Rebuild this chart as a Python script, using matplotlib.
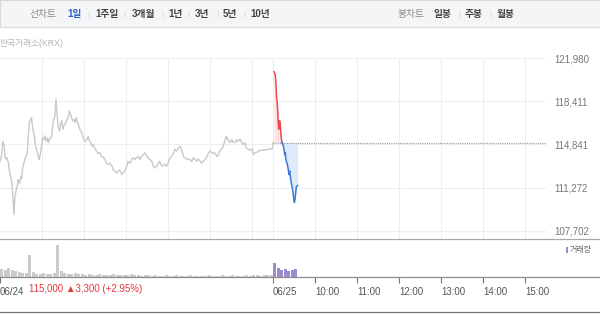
import numpy as np
import matplotlib
matplotlib.use("Agg")
import matplotlib.pyplot as plt
from matplotlib.patches import Rectangle
from matplotlib.lines import Line2D

plt.rcParams['font.family'] = ['Liberation Sans', 'Noto Sans CJK KR', 'DejaVu Sans']

# ---- data -----------------------------------------------------------------
# 06/24 intraday (minutes after 09:00, price)
day1_min = [0, 2, 4, 6, 7, 9, 10, 12, 14, 17,
            18, 20, 21, 23, 25, 26, 28, 30, 31, 32,
            34, 37, 39, 40, 42, 44, 45, 47, 49, 50,
            52, 55, 56, 58, 60, 61, 63, 64, 66, 68,
            69, 71, 74, 76, 78, 79, 80, 81, 82, 83,
            85, 87, 88, 90, 91, 93, 95, 98, 99, 101,
            102, 104, 106, 107, 109, 110, 112, 114, 117, 119,
            121, 124, 126, 128, 130, 131, 133, 136, 138, 140,
            143, 145, 148, 150, 152, 155, 157, 160, 162, 164,
            167, 169, 171, 174, 176, 179, 181, 183, 186, 188,
            190, 193, 195, 198, 200, 202, 205, 207, 210, 212,
            214, 217, 219, 221, 224, 226, 228, 230, 231, 233,
            236, 238, 240, 243, 245, 248, 250, 252, 255, 257,
            260, 262, 264, 267, 269, 271, 274, 276, 279, 281,
            283, 286, 288, 290, 293, 295, 298, 300, 302, 305,
            307, 310, 312, 314, 317, 319, 321, 323, 325, 326,
            328, 330, 331, 333, 336, 338, 340, 343, 345, 348,
            350, 352, 355, 357, 360, 362, 364, 367, 369, 371,
            374, 376, 381, 386, 389, 390]
day1_price = [113450, 113850, 115100, 114700, 113850, 113600, 113750, 113300, 112500, 111650,
              110850, 109050, 110300, 111100, 111500, 111950, 111650, 112200, 112050, 112750,
              113300, 113850, 114150, 115250, 116650, 116900, 117050, 116100, 115550, 115000,
              114450, 113850, 113600, 114150, 115000, 115400, 115250, 115550, 115100, 115400,
              115000, 115250, 115550, 116800, 117050, 117750, 118600, 117750, 117050, 116350,
              115950, 116650, 116800, 116100, 116350, 116500, 116800, 117200, 117600, 117350,
              117050, 116800, 116900, 116650, 117050, 116800, 116500, 116100, 115800, 115400,
              115100, 115250, 115500, 115100, 115000, 114700, 114850, 114450, 114300, 114100,
              114150, 113850, 113750, 113600, 113300, 113200, 113300, 113050, 112750, 112650,
              112500, 112650, 112750, 112350, 112500, 112750, 113050, 113450, 113300, 113600,
              113750, 113600, 113750, 113850, 113600, 113850, 114000, 114150, 113850, 113750,
              113600, 113450, 113050, 112900, 113050, 113300, 113450, 113200, 113050, 113100,
              113200, 113050, 113300, 113750, 113850, 114150, 114450, 114300, 114550, 114700,
              114300, 113850, 113750, 113600, 113650, 113600, 113450, 113750, 113600, 113450,
              113650, 113450, 113300, 113450, 113600, 113750, 114150, 114300, 114200, 114100,
              114150, 113850, 114000, 114300, 114550, 114700, 115100, 115500, 115250, 115300,
              115000, 115100, 115250, 115050, 115000, 115250, 115100, 115300, 115000, 114850,
              115000, 114550, 114450, 114350, 114500, 114000, 114150, 114200, 114300, 114350,
              114350, 114400, 114400, 114500, 114500, 115000]

# 06/25 intraday (minutes after 09:00, price)
day2_min = [1.4, 2.9, 3.8, 4.3, 4.8, 5.2, 5.7, 6.2, 6.7, 7.1,
            7.6, 8.1, 8.6, 9.0, 9.5, 10.0, 10.5, 11.0, 11.4, 12.4,
            13.1, 14.8, 15.7, 16.7, 17.6, 18.1, 19.0, 20.0, 21.0, 21.9,
            22.9, 23.8, 24.8, 25.7, 26.7, 27.6, 28.6, 29.5, 30.5, 31.4,
            32.4, 33.3, 34.3, 35.2]
day2_price = [120850, 120650, 120250, 119700, 119150, 118650, 118450, 118150, 117600, 117050,
              116500, 116100, 116350, 116650, 116800, 116650, 116350, 115950, 115650, 115100,
              115000, 114700, 114450, 114000, 114150, 113750, 113450, 113300, 113050, 112750,
              112350, 112650, 112200, 111800, 111500, 111250, 110850, 110400, 110050, 110300,
              110850, 111350, 111400, 111450]

prev_close = 115000
y_ticks = [107702, 111272, 114841, 118411, 121980]

# volume in 5-minute bins
vol_day1 = [8, 7, 9, 7, 6, 5, 4, 4, 22, 5,
            3, 3, 4, 3, 3, 4, 32, 6, 4, 3,
            3, 4, 3, 3, 2, 3, 2, 2, 3, 2,
            2, 2, 3, 2, 2, 2, 2, 3, 2, 2,
            1, 2, 2, 1, 2, 1, 1, 2, 1, 1,
            2, 1, 1, 1, 2, 1, 1, 1, 1, 2,
            1, 1, 1, 2, 1, 1, 2, 1, 1, 1,
            2, 1, 2, 2, 1, 2, 2, 2]
vol_day2 = [14, 9, 7, 8, 6, 7, 8]

x_tick_pos = [0, 390, 450, 510, 570, 630, 690, 750]
x_tick_lab = ['06/24', '06/25', '10:00', '11:00', '12:00', '13:00', '14:00', '15:00']
period_tabs = ['1일', '1주일', '3개월', '1년', '3년', '5년', '10년']
candle_tabs = ['일봉', '주봉', '월봉']

# ---- figure ---------------------------------------------------------------
W, H = 600, 315
fig = plt.figure(figsize=(6, 3.15), dpi=100)


def fx(px):
    return px / W


def fy(py):
    return 1 - py / H


# toolbar
fig.patches.append(Rectangle((0, fy(27)), 1, 27 / H, transform=fig.transFigure,
                             facecolor='#f4f5f7', edgecolor='#d9d9d9', lw=0.8))
fig.text(fx(29), fy(14), '선차트', fontsize=7, color='#8a8a8a', va='center')
tab_x = [67, 95, 132, 168, 195, 223, 250]
sep_x = [88, 124, 162, 188, 217, 244]
for i, lab in enumerate(period_tabs):
    fig.text(fx(tab_x[i]), fy(14), lab, fontsize=7, weight='bold', va='center',
             color='#2f5fc4' if i == 0 else '#444444')
for sx in sep_x:
    fig.text(fx(sx), fy(14), '|', fontsize=6, color='#d0d0d0', va='center', ha='center')
fig.text(fx(397), fy(14), '봉차트', fontsize=7, color='#8a8a8a', va='center')
for cx, lab in zip([433, 465, 497], candle_tabs):
    fig.text(fx(cx), fy(14), lab, fontsize=7, weight='bold', color='#444444', va='center')
for sx in [459, 490]:
    fig.text(fx(sx), fy(14), '|', fontsize=6, color='#d0d0d0', va='center', ha='center')

fig.text(fx(0), fy(43), '한국거래소(KRX)', fontsize=6.3, color='#b5b5b5', va='center')

# main price panel
ax = fig.add_axes([0, fy(239), fx(546), (239 - 58) / H])
ax.set_xlim(0, 780)
ax.set_ylim(107040, 121980)
for s in ax.spines.values():
    s.set_visible(False)
for gx in list(range(60, 361, 60)) + list(range(390, 780, 60)):
    ax.axvline(gx, color='#eeeeee', lw=0.8, zorder=0)
for gy in y_ticks:
    ax.axhline(gy, color='#eeeeee', lw=0.8, zorder=0)

ax.plot(day1_min, day1_price, color='#c9c9c9', lw=1.0)

d2x = 390 + np.array(day2_min)
d2y = np.array(day2_price)
ax.hlines(prev_close, 390, 780, colors='#9a9a9a', linestyles=(0, (1, 1)), lw=0.8)
ax.fill_between(d2x, d2y, prev_close, where=d2y >= prev_close, interpolate=True,
                color='#fde3e3', lw=0)
ax.fill_between(d2x, d2y, prev_close, where=d2y <= prev_close, interpolate=True,
                color='#deeaf9', lw=0)
cross = day2_price.index(prev_close)
ax.plot(d2x[:cross + 1], d2y[:cross + 1], color='#ee4a4f', lw=1.1)
ax.plot(d2x[cross:], d2y[cross:], color='#3b78d6', lw=1.1)

ax.set_xticks([])
ax.yaxis.tick_right()
ax.set_yticks(y_ticks)
ax.set_yticklabels([f'{v:,}' for v in y_ticks])
ax.tick_params(axis='y', length=0, pad=6, labelsize=7, labelcolor='#777777')

# volume panel
axv = fig.add_axes([0, fy(277), fx(546), (277 - 240) / H])
axv.set_xlim(0, 780)
axv.set_ylim(0, 37)
for s in axv.spines.values():
    s.set_visible(False)
v1x = 2.5 + 5 * np.arange(len(vol_day1))
v2x = 390 + 2.5 + 5 * np.arange(len(vol_day2))
axv.bar(v1x, vol_day1, width=4, color='#cbcbcb', lw=0)
axv.bar(v2x, vol_day2, width=4.5, color='#9d8ccb', lw=0)
axv.set_yticks([])
axv.set_xticks(x_tick_pos)
axv.set_xticklabels(x_tick_lab)
axv.tick_params(axis='x', direction='out', length=4, width=0.8, color='#777777',
                labelsize=7, labelcolor='#555555', pad=3)
plt.setp(axv.get_xticklabels(), ha='left')

axv.text(41, -0.32, '115,000 \u25b23,300 (+2.95%)', transform=axv.get_xaxis_transform(),
         fontsize=7, color='#e0393e', va='center')

fig.patches.append(Rectangle((fx(566), fy(253)), 2 / W, 6 / H, transform=fig.transFigure,
                             facecolor='#9d8ccb', lw=0))
fig.text(fx(570), fy(250), '거래량', fontsize=5.8, color='#666666', va='center')

# panel borders
for py, c in [(239, '#a8a8a8'), (277, '#8c8c8c'), (312, '#777777')]:
    fig.add_artist(Line2D([0, 1], [fy(py), fy(py)], transform=fig.transFigure,
                          color=c, lw=0.9))

fig.savefig('out.png', dpi=100)
